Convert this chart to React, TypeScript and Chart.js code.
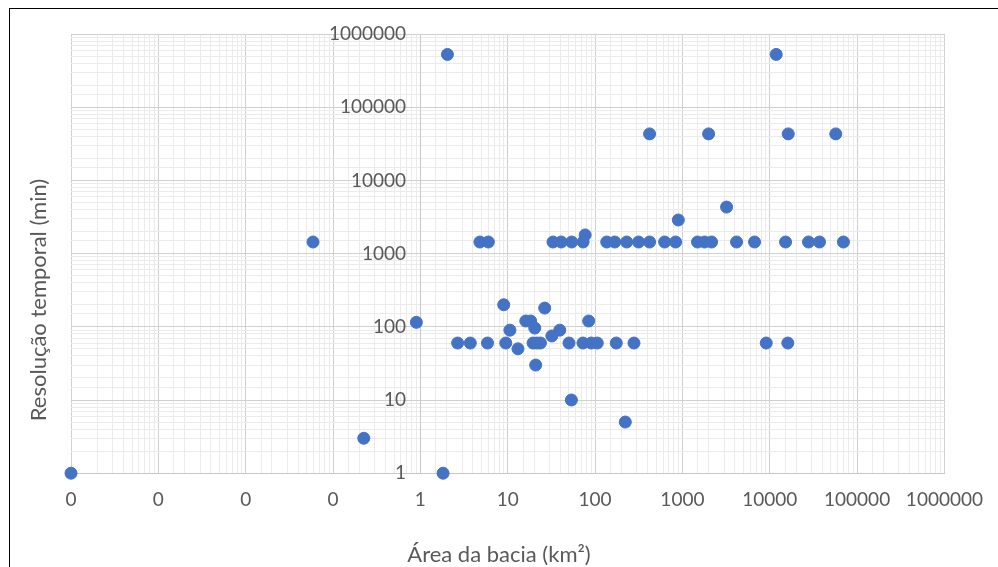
import React, { useEffect, useRef } from "react";
import { Chart, registerables } from "chart.js";

Chart.register(...registerables);

// Área da bacia (km²) and the matching temporal resolution (min)
const AREA_KM2 = [
  2.04, 11860,
  421, 1995, 16290, 57000,
  3205,
  898,
  77,
  0.059, 4.8, 6.0, 33, 41, 54, 73, 136, 168, 230, 315, 421, 626, 836, 1490, 1795, 2158, 4170, 6700, 15170, 27800, 37150, 69800,
  9.0,
  26.5,
  0.9, 16.1, 18.3, 84.5,
  20.4,
  10.6, 39.4,
  32,
  2.67, 3.73, 5.87, 9.5, 19.5, 21.6, 23.7, 50.3, 72.7, 90.6, 106, 175, 279, 9120, 16100,
  13.1,
  20.9,
  53.6,
  222,
  0.225,
  0.0001, 1.82,
];
const RESOLUTION_MIN = [
  525600, 525600,
  43200, 43200, 43200, 43200,
  4320,
  2880,
  1800,
  1440, 1440, 1440, 1440, 1440, 1440, 1440, 1440, 1440, 1440, 1440, 1440, 1440, 1440, 1440, 1440, 1440, 1440, 1440, 1440, 1440, 1440, 1440,
  200,
  180,
  115, 120, 120, 120,
  96,
  90, 90,
  75,
  60, 60, 60, 60, 60, 60, 60, 60, 60, 60, 60, 60, 60, 60, 60,
  50,
  30,
  10,
  5,
  3,
  1, 1,
];

const X_TICK_LABELS = ["0", "0", "0", "0", "1", "10", "100", "1000", "10000", "100000", "1000000"];
const Y_TICK_LABELS = ["1", "10", "100", "1000", "10000", "100000", "1000000"];
const X_MIN = 0.0001;
const X_MAX = 1000000;
const Y_MIN = 1;
const Y_MAX = 1000000;
const X_TITLE = "Área da bacia (km²)";
const Y_TITLE = "Resolução temporal (min)";

const TEXT_COLOR = "#595959";
const MAJOR_GRID = "#d0d0d0";
const MINOR_GRID = "#ebebeb";
const POINT_COLOR = "#4472C4";
const FONT = "Lato";
// gap between the y tick labels and the y axis (the axis sits at x = 1)
const Y_LABEL_GAP = "\u2003";

function isMajor(v: number): boolean {
  const l = Math.log10(v);
  return Math.abs(l - Math.round(l)) < 1e-6;
}

function gridColor(ctx: any) {
  const t = ctx.tick;
  if (!t) return MINOR_GRID;
  return isMajor(t.value) ? MAJOR_GRID : MINOR_GRID;
}

const axisTitles = {
  id: "axisTitles",
  afterDraw(chart: any) {
    const ctx = chart.ctx as CanvasRenderingContext2D;
    ctx.save();
    ctx.fillStyle = TEXT_COLOR;
    ctx.font = `22px ${FONT}`;
    ctx.textAlign = "center";
    ctx.textBaseline = "middle";
    ctx.fillText(X_TITLE, 499, 555);
    ctx.translate(38.5, 300);
    ctx.rotate(-Math.PI / 2);
    ctx.fillText(Y_TITLE, 0, 0);
    ctx.restore();
  },
};

export default function App() {
  const canvasRef = useRef<HTMLCanvasElement | null>(null);

  useEffect(() => {
    if (!canvasRef.current) return;
    const points = AREA_KM2.map((x, i) => ({ x, y: RESOLUTION_MIN[i] }));
    const chart = new Chart(canvasRef.current, {
      type: "scatter",
      data: {
        datasets: [
          {
            label: "Resolução temporal",
            data: points,
            backgroundColor: POINT_COLOR,
            borderColor: POINT_COLOR,
            borderWidth: 1,
            pointRadius: 6,
            pointHoverRadius: 6,
            clip: false as any,
          },
        ],
      },
      options: {
        responsive: false,
        animation: false,
        devicePixelRatio: 1,
        layout: { padding: { left: 71, top: 34, right: 12, bottom: 41 } },
        plugins: { legend: { display: false }, tooltip: { enabled: false }, title: { display: false } },
        scales: {
          x: {
            type: "logarithmic",
            position: "bottom",
            min: X_MIN,
            max: X_MAX,
            grid: { color: gridColor, drawTicks: false, lineWidth: 1 },
            border: { display: true, color: "#c8c8c8" },
            ticks: {
              autoSkip: false,
              maxRotation: 0,
              minRotation: 0,
              padding: 15,
              color: TEXT_COLOR,
              font: { family: FONT, size: 19 },
              callback: (value: any) => {
                const v = Number(value);
                return isMajor(v) ? X_TICK_LABELS[Math.round(Math.log10(v) - Math.log10(X_MIN))] : "";
              },
            },
          },
          y: {
            type: "logarithmic",
            position: { x: 1 } as any,
            min: Y_MIN,
            max: Y_MAX,
            grid: { color: gridColor, drawTicks: false, lineWidth: 1 },
            border: { display: true, color: "#c8c8c8" },
            ticks: {
              autoSkip: false,
              color: TEXT_COLOR,
              font: { family: FONT, size: 19 },
              callback: (value: any) => {
                const v = Number(value);
                return isMajor(v)
                  ? Y_TICK_LABELS[Math.round(Math.log10(v) - Math.log10(Y_MIN))] + Y_LABEL_GAP
                  : "";
              },
            },
          },
        },
      },
      plugins: [axisTitles],
    });
    return () => chart.destroy();
  }, []);

  return (
    <div style={{ position: "fixed", left: 0, top: 0, width: 998, height: 567, overflow: "hidden", background: "#fff" }}>
      <div
        style={{
          position: "absolute",
          left: 9,
          top: 8,
          width: 1100,
          height: 700,
          border: "1px solid #000",
          boxSizing: "border-box",
        }}
      />
      <canvas
        ref={canvasRef}
        width={998}
        height={567}
        style={{ position: "absolute", left: 0, top: 0, width: 998, height: 567 }}
      />
    </div>
  );
}
